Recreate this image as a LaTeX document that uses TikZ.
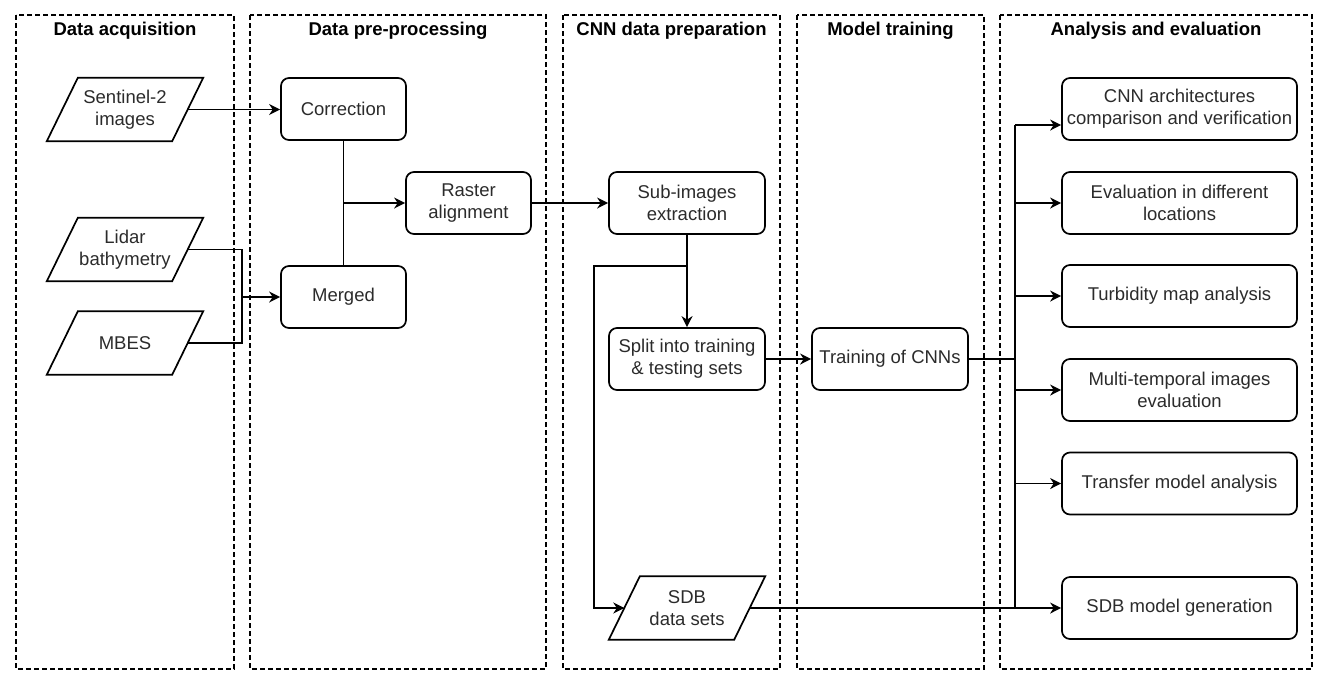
\documentclass[tikz,border=0pt]{standalone}
\usepackage{fontspec}
\setmainfont{Liberation Sans}
\usetikzlibrary{arrows.meta,calc}
\definecolor{txt}{HTML}{2B2B2B}
\newcommand\nodefont{\fontsize{18.5}{22}\selectfont}
\newcommand\paral[1]{\draw[conn] ([xshift=15.5pt]#1.north west) -- ([xshift=15.5pt]#1.north east) -- ([xshift=-15.5pt]#1.south east) -- ([xshift=-15.5pt]#1.south west) -- cycle;}
\begin{document}
\begin{tikzpicture}[x=1pt,y=-1pt,
  lane/.style={draw, line width=1.3pt, dash pattern=on 5pt off 3pt},
  ttl/.style={font=\bfseries\nodefont, text=black, inner sep=0pt},
  box/.style={draw, line width=1.7pt, rounded corners=8pt, minimum height=62pt, align=center, inner sep=0pt, text=txt, font=\nodefont},
  wbox/.style={box, minimum width=235pt},
  para/.style={minimum width=125pt, minimum height=63pt, align=center, inner sep=0pt, text=txt, font=\nodefont},
  conn/.style={line width=1.7pt, line join=miter},
  arr/.style={conn, -{Stealth[length=11pt,width=11pt,inset=3.5pt]}}]
\useasboundingbox (0,0) rectangle (1330,686);
% lanes
\draw[lane] (16,15) rectangle (234,669);
\draw[lane] (250,15) rectangle (546,669);
\draw[lane] (563,15) rectangle (780,669);
\draw[lane] (797,15) rectangle (984,669);
\draw[lane] (1000,15) rectangle (1312,669);
\node[ttl] (t1) at (125,31) {Data acquisition};
\node[ttl] (t2) at (398,31) {Data pre-processing};
\node[ttl] (t3) at (671.5,31) {CNN data preparation};
\node[ttl] (t4) at (890.5,31) {Model training};
\node[ttl] (t5) at (1156,31) {Analysis and evaluation};
% nodes
\node[para] (sen) at (125,109.5) {Sentinel-2\\images};
\node[para] (lid) at (125,249.5) {Lidar\\bathymetry};
\node[para] (mbes) at (125,343) {MBES};
\paral{sen}\paral{lid}\paral{mbes}
\node[box, minimum width=125pt] (cor) at (343.5,109) {Correction};
\node[box, minimum width=125pt] (mer) at (343.5,297) {Merged};
\node[box, minimum width=125pt] (ras) at (468.5,203) {Raster\\alignment};
\node[box, minimum width=156pt] (sub) at (687,203) {Sub-images\\extraction};
\node[box, minimum width=156pt] (spl) at (687,359) {Split into training\\\& testing sets};
\node[para] (sdb) at (687,608) {SDB\\data sets};
\paral{sdb}
\node[box, minimum width=156pt] (trn) at (890,359) {Training of CNNs};
\node[wbox] (a1) at (1179.5,109) {CNN architectures\\comparison and verification};
\node[wbox] (a2) at (1179.5,203) {Evaluation in different\\locations};
\node[wbox] (a3) at (1179.5,296) {Turbidity map analysis};
\node[wbox] (a4) at (1179.5,390) {Multi-temporal images\\evaluation};
\node[wbox] (a5) at (1179.5,483.5) {Transfer model analysis};
\node[wbox] (a6) at (1179.5,608) {SDB model generation};
% connectors
\draw[arr] (sen.east) -- (sen.east -| cor.west);
\coordinate (j1) at (242,297);
\draw[conn] (lid.east) -| (j1) |- (mbes.east);
\draw[arr] (j1) -- (mer.west);
\draw[conn] (cor.south) -- (mer.north);
\coordinate (j2) at (343.5,203);
\draw[arr] (j2) -- (ras.west);
\draw[arr] (ras.east) -- (sub.west);
\draw[arr] (sub.south) -- (spl.north);
\coordinate (j3) at (687,266);
\coordinate (j4) at (594,266);
\draw[arr] (j3) -- (j4) |- (sdb.west);
\draw[arr] (spl.east) -- (trn.west);
\coordinate (bt) at (1015,125);
\coordinate (bb) at (1015,608);
\draw[conn] (trn.east) -- (trn.east -| bt);
\draw[conn] (bt) -- (bb);
\draw[arr] (bt) -- (bt -| a1.west);
\foreach \n in {a2,a3,a4,a5} {\draw[arr] (\n.west -| bt) -- (\n.west);}
\draw[arr] (sdb.east) -- (a6.west);
\end{tikzpicture}
\end{document}
